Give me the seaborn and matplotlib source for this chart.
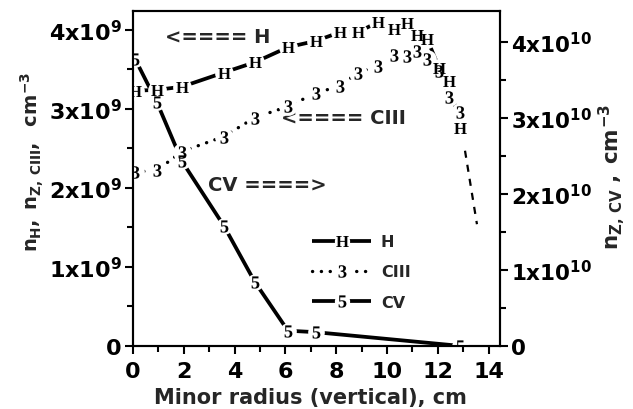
import numpy as np
import pandas as pd
import matplotlib
matplotlib.use("Agg")
import matplotlib.pyplot as plt
import seaborn as sns
from matplotlib.textpath import TextPath
from matplotlib.path import Path
from matplotlib.font_manager import FontProperties
from matplotlib.lines import Line2D
from matplotlib.legend_handler import HandlerTuple
from matplotlib.ticker import MultipleLocator

# ---------------- data ----------------
x_pos = [0.08, 0.94, 1.93, 3.58, 4.80, 6.10, 7.20, 8.15, 8.86, 9.65,
         10.28, 10.79, 11.18, 11.57, 12.05, 12.45, 12.87]
n_H = [3.23e9, 3.24e9, 3.28e9, 3.46e9, 3.59e9, 3.78e9, 3.86e9, 3.97e9, 3.97e9,
       4.10e9, 4.01e9, 4.09e9, 3.94e9, 3.89e9, 3.52e9, 3.35e9, 2.76e9]
n_CIII = [2.20e9, 2.22e9, 2.46e9, 2.65e9, 2.89e9, 3.03e9, 3.20e9, 3.29e9, 3.46e9,
          3.54e9, 3.68e9, 3.67e9, 3.73e9, 3.63e9, 3.48e9, 3.15e9, 2.96e9]
x_CV = [0.08, 0.94, 1.93, 3.58, 4.80, 6.10, 7.20, 12.87]
n_CV = [3.78e10, 3.21e10, 2.43e10, 1.58e10, 0.84e10, 0.20e10, 0.18e10, 0.0]
x_tail = [13.07, 13.54]
n_tail = [2.47e9, 1.54e9]

x_ticks = [0, 2, 4, 6, 8, 10, 12, 14]
left_ticks = [0, 1e9, 2e9, 3e9, 4e9]
left_labels = ["0", r"$1x10^{9}$", r"$2x10^{9}$", r"$3x10^{9}$", r"$4x10^{9}$"]
right_ticks = [0, 1e10, 2e10, 3e10, 4e10]
right_labels = ["0", r"$1x10^{10}$", r"$2x10^{10}$", r"$3x10^{10}$", r"$4x10^{10}$"]
series_names = ["H", "CIII", "CV"]
series_glyphs = ["H", "3", "5"]

# ---------------- style ----------------
sns.set_style("ticks")
FONT = "DejaVu Sans"
plt.rcParams.update({
    "font.family": [FONT],
    "font.weight": "bold",
    "mathtext.fontset": "custom",
    "mathtext.rm": f"{FONT}:bold",
    "mathtext.it": f"{FONT}:bold",
    "mathtext.bf": f"{FONT}:bold",
    "mathtext.sf": f"{FONT}:bold",
    "axes.linewidth": 1.5,
    "axes.edgecolor": "black",
    "xtick.color": "black",
    "ytick.color": "black",
})


def glyph(ch):
    tp = TextPath((0, 0), ch, size=10, prop=FontProperties(family="Liberation Serif"))
    v = np.array(tp.vertices, dtype=float)
    codes = np.array(tp.codes)
    real = codes != Path.CLOSEPOLY
    lo = v[real].min(axis=0)
    hi = v[real].max(axis=0)
    v = v - (lo + hi) / 2.0
    v[~real] = 0.0
    return Path(v, codes)


GLYPH = {g: glyph(g) for g in series_glyphs}
GSIZE = {"H": 9.0, "3": 9.0, "5": 8.8}
DOTTED = (0, (0.05, 2.6))

fig = plt.figure(figsize=(6.33, 4.10), dpi=100)
ax = fig.add_axes([0.210, 0.154, 0.580, 0.817])
ax2 = ax.twinx()

df_h = pd.DataFrame({"x": x_pos, "H": n_H, "CIII": n_CIII})
df_cv = pd.DataFrame({"x": x_CV, "CV": n_CV})
df_tail = pd.DataFrame({"x": x_tail, "y": n_tail})

LW = 2.7
sns.lineplot(data=df_h, x="x", y="H", ax=ax, color="black", lw=LW, sort=False,
             solid_capstyle="butt", zorder=2)
sns.lineplot(data=df_h, x="x", y="CIII", ax=ax, color="black", lw=2.4, sort=False,
             linestyle=DOTTED, dash_capstyle="round", zorder=2)
sns.lineplot(data=df_tail, x="x", y="y", ax=ax, color="black", lw=1.6, sort=False,
             linestyle=(0, (3.2, 3.2)), zorder=2)
sns.lineplot(data=df_cv, x="x", y="CV", ax=ax2, color="black", lw=LW, sort=False,
             solid_capstyle="butt", zorder=2)

# gaps (white) and glyph markers, all drawn in the top axes so they layer together
for xs, ys, trans, gs in [
    (x_pos, n_H, ax.transData, 13.5),
    (x_pos, n_CIII, ax.transData, 13.5),
    (x_CV, n_CV, ax2.transData, 12.0),
]:
    ax2.plot(xs, ys, transform=trans, ls="none", marker="o", ms=gs,
             mfc="white", mec="none", zorder=3)
for xs, ys, trans, g in [
    (x_pos, n_H, ax.transData, "H"),
    (x_pos, n_CIII, ax.transData, "3"),
    (x_CV, n_CV, ax2.transData, "5"),
]:
    ax2.plot(xs, ys, transform=trans, ls="none", marker=GLYPH[g], ms=GSIZE[g],
             mfc="black", mec="none", zorder=4)

# axes limits & ticks
ax.set_xlim(0, 14.45)
ax.set_ylim(0, 4.24e9)
ax2.set_ylim(0, 4.41e10)
ax.set_xticks(x_ticks)
ax.set_xticklabels([str(t) for t in x_ticks])
ax.xaxis.set_minor_locator(MultipleLocator(1))
ax.set_yticks(left_ticks)
ax.set_yticklabels(left_labels)
ax.yaxis.set_minor_locator(MultipleLocator(0.5e9))
ax2.set_yticks(right_ticks)
ax2.set_yticklabels(right_labels)
ax2.yaxis.set_minor_locator(MultipleLocator(0.5e10))

ax.tick_params(axis="x", which="major", direction="out", length=6, width=1.5,
               labelsize=16, pad=5, top=False)
ax.tick_params(axis="x", which="minor", direction="out", length=4, width=1.5, top=False)
ax.tick_params(axis="y", which="major", direction="out", length=6, width=1.5,
               labelsize=16, pad=2, right=False)
ax.tick_params(axis="y", which="minor", direction="out", length=4, width=1.5, right=False)
ax2.tick_params(axis="y", which="major", direction="out", length=6, width=1.5,
                labelsize=15.5, pad=2, left=False)
ax2.tick_params(axis="y", which="minor", direction="out", length=4, width=1.5, left=False)
ax.set_xlabel("")
ax.set_ylabel("")
ax2.set_ylabel("")
for a in (ax, ax2):
    for s in a.spines.values():
        s.set_visible(True)
        s.set_linewidth(1.5)
        s.set_zorder(10)

# annotations
ax.text(3.35, 3.92e9, "<==== H", ha="center", va="center", fontsize=14, fontweight="bold")
ax.text(8.27, 2.89e9, "<==== CIII", ha="center", va="center", fontsize=14, fontweight="bold")
ax.text(5.28, 2.04e9, "CV ====>", ha="center", va="center", fontsize=14, fontweight="bold")

# legend
handles = []
for name, g, st in zip(series_names, series_glyphs, ["-", DOTTED, "-"]):
    ln = Line2D([], [], color="black", lw=LW if st == "-" else 2.4, linestyle=st,
                dash_capstyle="round", solid_capstyle="butt")
    gap = Line2D([], [], ls="none", marker="o", ms=11, mfc="white", mec="none")
    gl = Line2D([], [], ls="none", marker=GLYPH[g], ms=GSIZE[g], mfc="black", mec="none")
    handles.append((ln, gap, gl))
leg = ax2.legend(handles, series_names, handler_map={tuple: HandlerTuple(ndivide=1, pad=0)},
                 loc="upper left", bbox_to_anchor=(0.488, 0.333), frameon=False,
                 borderpad=0, borderaxespad=0, handlelength=3.7, handletextpad=0.6,
                 labelspacing=0.95, prop={"family": FONT, "weight": "bold", "size": 11.5})
leg.set_zorder(20)

# axis titles
fig.text(0.491, 0.029, "Minor radius (vertical), cm", ha="center", va="center",
         fontsize=15, fontweight="bold")
fig.text(0.052, 0.605, r"$n_{H},\; n_{Z,\,CIII},\;\; cm^{-3}$", ha="center", va="center",
         rotation=90, fontsize=14)
fig.text(0.967, 0.568, r"$n_{Z,\,CV}\;,\;cm^{-3}$", ha="center", va="center",
         rotation=90, fontsize=15.5)

fig.savefig("out.png", dpi=100)
